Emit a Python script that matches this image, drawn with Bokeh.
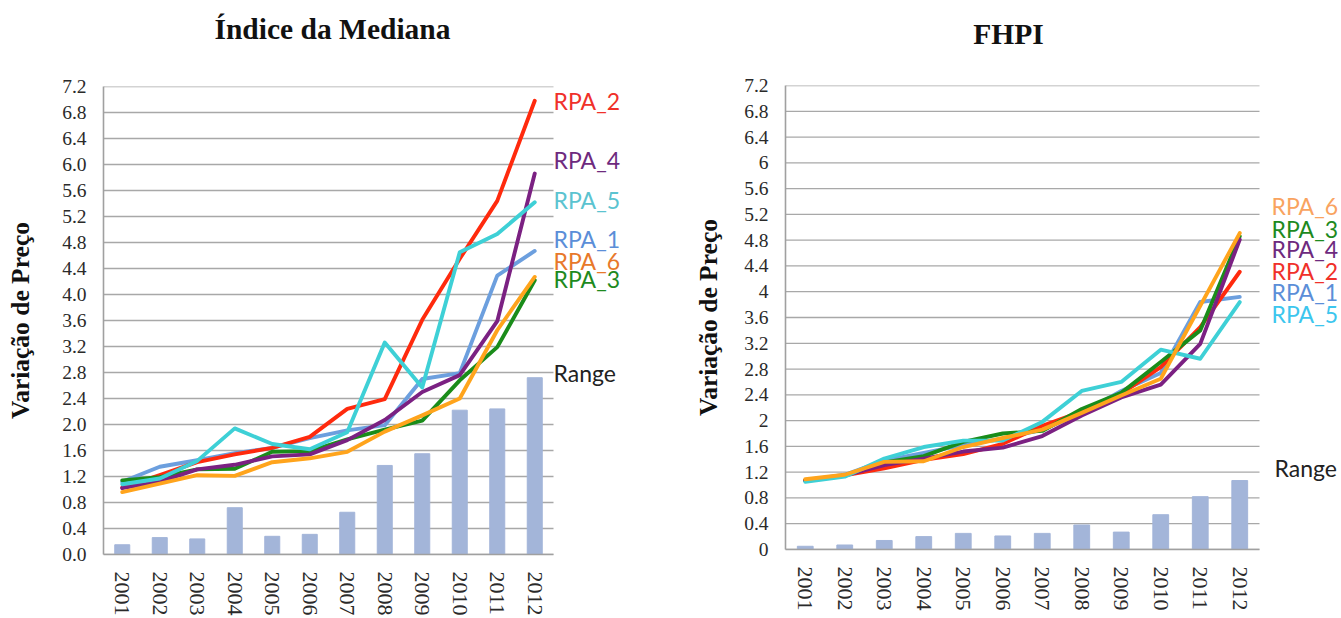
from bokeh.plotting import figure
from bokeh.layouts import row, column
from bokeh.models import FixedTicker, Range1d, ColumnDataSource
from bokeh.core.properties import value
from bokeh.embed import file_html
from bokeh.resources import INLINE

# ---------------- data ----------------
years = ["2001", "2002", "2003", "2004", "2005", "2006",
         "2007", "2008", "2009", "2010", "2011", "2012"]

# Índice da Mediana
med_rpa1 = [1.12, 1.35, 1.45, 1.56, 1.64, 1.79, 1.91, 1.99, 2.70, 2.79, 4.29, 4.67]
med_rpa2 = [1.03, 1.22, 1.42, 1.54, 1.64, 1.81, 2.24, 2.39, 3.61, 4.55, 5.44, 6.98]
med_rpa3 = [1.14, 1.19, 1.31, 1.32, 1.58, 1.59, 1.77, 1.92, 2.06, 2.68, 3.19, 4.22]
med_rpa4 = [1.02, 1.12, 1.31, 1.38, 1.51, 1.54, 1.76, 2.07, 2.50, 2.76, 3.59, 5.86]
med_rpa5 = [1.08, 1.17, 1.44, 1.94, 1.70, 1.62, 1.88, 3.26, 2.57, 4.65, 4.93, 5.42]
med_rpa6 = [0.96, 1.09, 1.22, 1.21, 1.42, 1.48, 1.58, 1.89, 2.14, 2.40, 3.45, 4.27]
med_range = [0.15, 0.26, 0.24, 0.72, 0.28, 0.31, 0.65, 1.37, 1.55, 2.22, 2.24, 2.72]

# FHPI
fhpi_rpa1 = [1.07, 1.16, 1.38, 1.50, 1.62, 1.72, 1.86, 2.12, 2.46, 2.74, 3.84, 3.92]
fhpi_rpa2 = [1.07, 1.15, 1.26, 1.39, 1.48, 1.64, 1.92, 2.14, 2.42, 2.83, 3.45, 4.31]
fhpi_rpa3 = [1.07, 1.15, 1.35, 1.45, 1.67, 1.80, 1.84, 2.18, 2.43, 2.91, 3.40, 4.86]
fhpi_rpa4 = [1.07, 1.15, 1.31, 1.41, 1.52, 1.58, 1.76, 2.08, 2.36, 2.56, 3.19, 4.81]
fhpi_rpa5 = [1.05, 1.13, 1.41, 1.59, 1.69, 1.69, 1.98, 2.46, 2.60, 3.10, 2.96, 3.84]
fhpi_rpa6 = [1.09, 1.16, 1.36, 1.37, 1.59, 1.73, 1.86, 2.12, 2.39, 2.65, 3.78, 4.91]
fhpi_range = [0.05, 0.07, 0.14, 0.20, 0.25, 0.21, 0.25, 0.38, 0.27, 0.54, 0.82, 1.07]

series_names = ["RPA_1", "RPA_2", "RPA_3", "RPA_4", "RPA_5", "RPA_6"]
range_name = "Range"

y_ticks = [0.0, 0.4, 0.8, 1.2, 1.6, 2.0, 2.4, 2.8, 3.2, 3.6, 4.0, 4.4,
           4.8, 5.2, 5.6, 6.0, 6.4, 6.8, 7.2]
med_tick_labels = ["0.0", "0.4", "0.8", "1.2", "1.6", "2.0", "2.4", "2.8", "3.2", "3.6",
                   "4.0", "4.4", "4.8", "5.2", "5.6", "6.0", "6.4", "6.8", "7.2"]
fhpi_tick_labels = ["0", "0.4", "0.8", "1.2", "1.6", "2", "2.4", "2.8", "3.2", "3.6",
                    "4", "4.4", "4.8", "5.2", "5.6", "6", "6.4", "6.8", "7.2"]

titles = ["Índice da Mediana", "FHPI"]
y_title = "Variação de Preço"

# ---------------- style ----------------
line_colors = ["#6C9FDE", "#FF2A0D", "#1A8C1A", "#7B2182", "#3ED0D6", "#FFA41C"]
bar_color = "#A3B5D9"
grid_color = "#A8A8A8"
serif = "Liberation Serif"
label_font = "Lato"

# series-name label colours and vertical placement (data units, text centre)
med_label_colors = ["#5B8ED8", "#F0302A", "#1E8A1E", "#6E2A7E", "#5BC3D0", "#E8782A"]
med_label_y = [4.86, 6.97, 4.24, 6.07, 5.45, 4.52]
med_range_label_y = 2.80
fhpi_label_colors = ["#5B8ED8", "#F0302A", "#1E8A1E", "#6E2A7E", "#3CC6EE", "#F9A35F"]
fhpi_label_y = [3.99, 4.32, 4.98, 4.66, 3.66, 5.33]
fhpi_range_label_y = 1.27

TITLE_H = 60
CHART_H = 558
BORDER_RIGHT = 2


def title_fig(text, width, border_left, cx, cy):
    frame_w = width - border_left - BORDER_RIGHT
    t = figure(width=width, height=TITLE_H, x_range=Range1d(0, frame_w),
               y_range=Range1d(TITLE_H, 0), x_axis_type=None, y_axis_type=None,
               output_backend="svg", toolbar_location=None,
               min_border_left=border_left, min_border_right=BORDER_RIGHT,
               min_border_top=0, min_border_bottom=0)
    t.outline_line_color = None
    t.text(x=[cx], y=[cy], text=[text], text_align="center",
           text_baseline="middle", text_font=value(serif),
           text_font_style="bold", text_font_size="29.5px", text_color="#111111")
    return t


def make_chart(series, rng, tick_labels, label_colors, label_y, range_y,
               width, border_left, border_top, border_bottom, plot_w,
               ylabel_standoff, label_gap, range_gap):
    n = len(years)
    x_pos = list(range(n))
    x_end = -0.5 + (width - border_left - BORDER_RIGHT) * n / plot_w
    p = figure(width=width, height=CHART_H, x_range=Range1d(-0.5, x_end),
               y_range=Range1d(y_ticks[0], y_ticks[-1]), output_backend="svg",
               toolbar_location=None,
               min_border_left=border_left, min_border_right=BORDER_RIGHT,
               min_border_top=border_top, min_border_bottom=border_bottom)
    p.outline_line_color = None
    p.background_fill_color = "white"
    p.border_fill_color = "white"
    p.xgrid.visible = False
    p.ygrid.visible = False

    # horizontal gridlines limited to the plotting area
    p.segment(x0=[-0.5] * len(y_ticks), x1=[n - 0.5] * len(y_ticks),
              y0=y_ticks, y1=y_ticks, line_color=grid_color, line_width=1.3)

    p.yaxis.ticker = FixedTicker(ticks=y_ticks)
    p.yaxis.major_label_overrides = dict(zip(y_ticks, tick_labels))
    p.xaxis.ticker = FixedTicker(ticks=x_pos)
    p.xaxis.major_label_overrides = dict(zip(x_pos, years))
    p.xaxis.bounds = (-0.5, n - 0.5)

    p.yaxis.axis_label = y_title
    p.yaxis.axis_label_text_font = serif
    p.yaxis.axis_label_text_font_style = "bold"
    p.yaxis.axis_label_text_font_size = "25.5px"
    p.yaxis.axis_label_text_color = "#111111"
    p.yaxis.axis_label_standoff = ylabel_standoff
    for ax in (p.xaxis, p.yaxis):
        ax.axis_line_color = "#A0A0A0"
        ax.axis_line_width = 1.6
        ax.major_tick_line_color = None
        ax.minor_tick_line_color = None
        ax.major_tick_out = 0
        ax.major_tick_in = 0
        ax.major_label_text_font = serif
        ax.major_label_text_color = "#2A2A2A"
    p.yaxis.major_label_text_font_size = "19.5px"
    p.yaxis.major_label_standoff = 17
    p.xaxis.major_label_text_font_size = "22px"
    p.xaxis.major_label_orientation = "vertical"
    p.xaxis.major_label_standoff = 17

    p.vbar(x=x_pos, top=rng, width=0.4, color=bar_color)
    for vals, col in zip(series, line_colors):
        p.line(x=x_pos, y=vals, line_width=3.9, color=col,
               line_join="round", line_cap="round")

    px = n / plot_w  # data units per pixel along x
    src = ColumnDataSource(dict(
        x=[n - 0.5 + label_gap * px] * len(series_names) + [n - 0.5 + range_gap * px],
        y=label_y + [range_y],
        text=series_names + [range_name],
        color=label_colors + ["#222222"],
    ))
    p.text(x="x", y="y", text="text", text_color="color", source=src,
           text_align="left", text_baseline="middle",
           text_font=value(label_font), text_font_size="23px")
    return p


t1 = title_fig(titles[0], 670, 103, 229, 28)
t2 = title_fig(titles[1], 671, 115, 223, 33)

p1 = make_chart([med_rpa1, med_rpa2, med_rpa3, med_rpa4, med_rpa5, med_rpa6],
                med_range, med_tick_labels, med_label_colors, med_label_y,
                med_range_label_y,
                width=670, border_left=103, border_top=26, border_bottom=64,
                plot_w=450, ylabel_standoff=24, label_gap=0, range_gap=0)

p2 = make_chart([fhpi_rpa1, fhpi_rpa2, fhpi_rpa3, fhpi_rpa4, fhpi_rpa5, fhpi_rpa6],
                fhpi_range, fhpi_tick_labels, fhpi_label_colors, fhpi_label_y,
                fhpi_range_label_y,
                width=671, border_left=115, border_top=25, border_bottom=69,
                plot_w=474, ylabel_standoff=18, label_gap=12, range_gap=15)

layout = row(column(t1, p1), column(t2, p2))
open("out.html", "w").write(file_html(layout, INLINE))
